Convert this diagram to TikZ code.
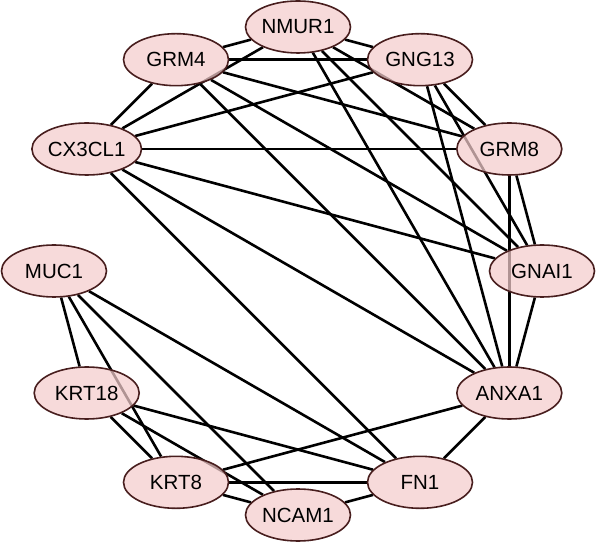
\documentclass[tikz,border=0pt]{standalone}
\usepackage{fontspec}
\setmainfont{Liberation Sans}
\usetikzlibrary{shapes.geometric}
\pgfdeclarelayer{bg}
\pgfsetlayers{bg,main}
\definecolor{nodefill}{RGB}{244,204,204}
\definecolor{nodeline}{RGB}{72,30,30}
\tikzset{
  gene/.style={ellipse, draw=nodeline, line width=1.6pt, fill=nodefill, fill opacity=0.72, draw opacity=1, text opacity=1,
    minimum width=105pt, minimum height=52pt, inner sep=0pt, font=\fontsize{20.5}{24}\selectfont},
  link/.style={line width=2.6pt, black}
}
\begin{document}
\begin{tikzpicture}[x=1pt,y=1pt]
\useasboundingbox (0,0) rectangle (596,543);
\begin{scope}[shift={(298,272)}]
\node[gene] (NMUR1)  at (90:244)  {NMUR1};
\node[gene] (GNG13)  at (60:244)  {GNG13};
\node[gene] (GRM8)   at (30:244)  {GRM8};
\node[gene] (GNAI1)  at (0:244)   {GNAI1};
\node[gene] (ANXA1)  at (-30:244) {ANXA1};
\node[gene] (FN1)    at (-60:244) {FN1};
\node[gene] (NCAM1)  at (-90:244) {NCAM1};
\node[gene] (KRT8)   at (-120:244) {KRT8};
\node[gene] (KRT18)  at (-150:244) {KRT18};
\node[gene] (MUC1)   at (180:244) {MUC1};
\node[gene] (CX3CL1) at (150:244) {CX3CL1};
\node[gene] (GRM4)   at (120:244) {GRM4};
\end{scope}
\begin{pgfonlayer}{bg}
\foreach \a/\b in {NMUR1/GRM4, NMUR1/GNG13, NMUR1/CX3CL1, NMUR1/GRM8, NMUR1/GNAI1, NMUR1/ANXA1,
  GRM4/GNG13, GRM4/CX3CL1, GRM4/GRM8, GRM4/GNAI1, GRM4/ANXA1,
  GNG13/CX3CL1, GNG13/GRM8, GNG13/GNAI1, GNG13/ANXA1,
  CX3CL1/GRM8, CX3CL1/GNAI1, CX3CL1/ANXA1,
  GRM8/GNAI1, GRM8/ANXA1, GNAI1/ANXA1,
  MUC1/KRT18, MUC1/KRT8, MUC1/NCAM1, MUC1/FN1,
  KRT18/KRT8, KRT18/NCAM1, KRT18/FN1,
  KRT8/NCAM1, KRT8/FN1, NCAM1/FN1,
  CX3CL1/FN1, ANXA1/KRT8, ANXA1/FN1}
  \draw[link] (\a) -- (\b);
\end{pgfonlayer}
\end{tikzpicture}
\end{document}
